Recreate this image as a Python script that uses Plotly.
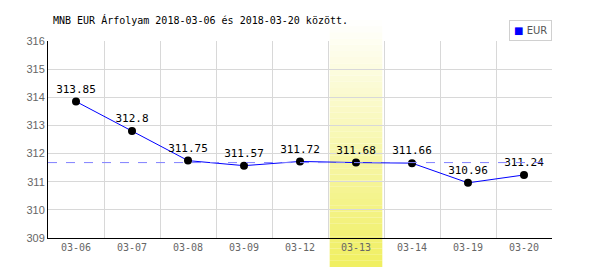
import plotly.graph_objects as go

dates = ["03-06", "03-07", "03-08", "03-09", "03-12", "03-13", "03-14", "03-19", "03-20"]
eur = [313.85, 312.8, 311.75, 311.57, 311.72, 311.68, 311.66, 310.96, 311.24]
highlight = "03-13"
ref_value = 311.68  # median line
y_ticks = [309, 310, 311, 312, 313, 314, 315, 316]
series_name = "EUR"

W, H = 600, 270
ml, mr, mt, mb = 48, 48, 41, 32
ph = H - mt - mb

def py(pix):
    return (H - mb - pix) / ph

fig = go.Figure()

# gradient highlight band
hi = dates.index(highlight)
n = 40
top, bot = py(20), py(267)
for k in range(n):
    f = (k + 0.5) / n
    r = round(255 + (240 - 255) * f)
    g = round(255 + (239 - 255) * f)
    b = round(255 + (96 - 255) * f)
    y0 = top + (bot - top) * k / n
    y1 = top + (bot - top) * (k + 1) / n
    fig.add_shape(type="rect", xref="x", yref="paper",
                  x0=hi - 0.47, x1=hi + 0.47, y0=y1, y1=y0,
                  fillcolor=f"rgb({r},{g},{b})", line_width=0, layer="below")

# reference dashed line
fig.add_shape(type="line", xref="paper", yref="y", x0=0, x1=1,
              y0=ref_value, y1=ref_value,
              line=dict(color="#8080ff", width=1, dash="dash"))

fig.add_trace(go.Scatter(
    x=dates, y=eur, mode="lines+markers+text", name=series_name,
    line=dict(color="#0000ff", width=1),
    marker=dict(color="black", size=8),
    text=[f"{v:g}" for v in eur], textposition="top center",
    textfont=dict(family="DejaVu Sans Mono", size=11, color="black"),
    showlegend=False, cliponaxis=False))

# compact legend box
fig.add_annotation(
    xref="paper", yref="paper", x=1, y=py(20), xanchor="right", yanchor="top",
    text=f"<span style='color:#0000ff'>■</span> {series_name}",
    showarrow=False, bordercolor="#d0d0d0", borderwidth=1, borderpad=4,
    bgcolor="white", font=dict(family="DejaVu Sans", size=10, color="#555"))

fig.update_layout(
    width=W, height=H,
    margin=dict(l=ml, r=mr, t=mt, b=mb),
    paper_bgcolor="white", plot_bgcolor="white",
    showlegend=False,
    title=dict(text="MNB EUR Árfolyam 2018-03-06 és 2018-03-20 között.",
               x=53 / W, xanchor="left", y=1 - 20 / H, yanchor="middle",
               font=dict(family="DejaVu Sans Mono", size=10, color="black")),
    xaxis=dict(type="category", range=[-0.5, len(dates) - 0.5],
               tickson="boundaries", showgrid=True, gridcolor="#d8d8d8",
               gridwidth=1, showline=True, linecolor="black", linewidth=1,
               ticks="", tickfont=dict(family="DejaVu Sans Mono", size=10, color="#666"),
               zeroline=False, fixedrange=True),
    yaxis=dict(range=[309, 316], tickvals=y_ticks, showgrid=True,
               gridcolor="#d8d8d8", gridwidth=1, showline=True,
               linecolor="black", linewidth=1, ticks="", zeroline=False,
               tickfont=dict(family="Liberation Sans", size=11, color="#666")),
)

fig.write_html("out.html")
